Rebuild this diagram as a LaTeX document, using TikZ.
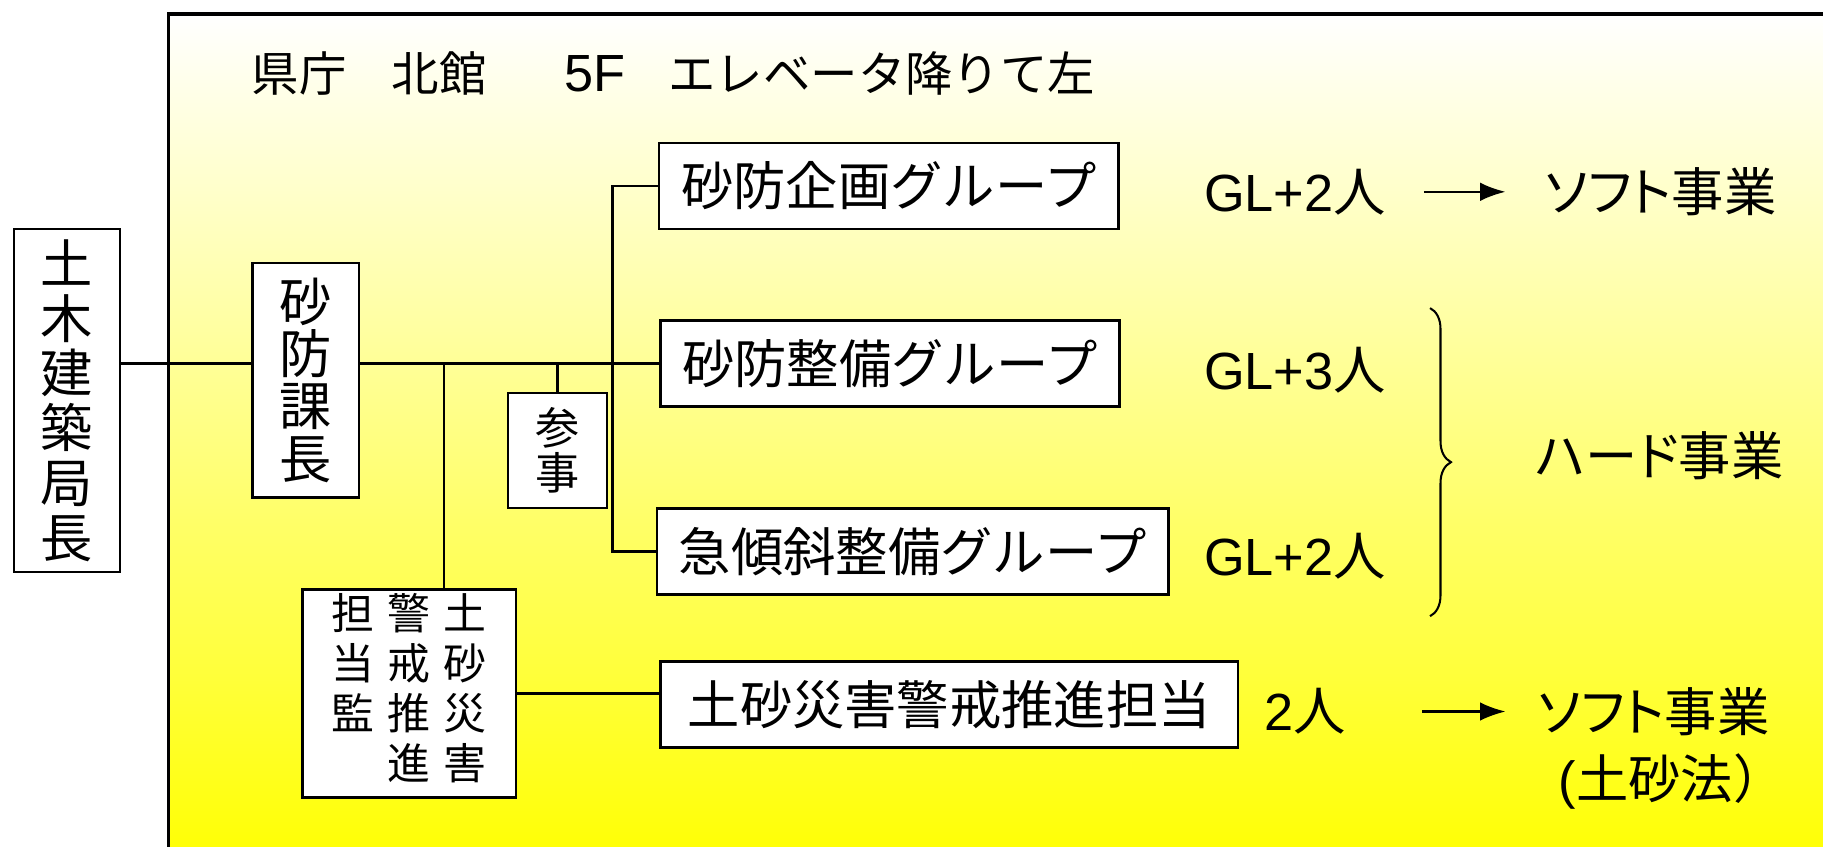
\documentclass[tikz,border=0pt]{standalone}
\usepackage{fontspec}
\setmainfont{Noto Sans CJK JP}
\newfontfamily\latinfont{Liberation Sans}
\newfontfamily\propfont[RawFeature=+palt]{Noto Sans CJK JP}
\usepackage{tikz}
\usetikzlibrary{arrows.meta, decorations.pathreplacing}

\begin{document}
\begin{tikzpicture}[
    box/.style={
        rectangle,
        draw=black,
        line width=0.6pt,
        fill=white,
        inner sep=0pt,
        align=center,
        font=\fontsize{12.8}{12.8}\selectfont
    },
    group/.style={
        box,
        minimum height=0.74cm
    },
    link/.style={line width=0.6pt},
    note/.style={
        inner sep=0pt,
        anchor=west,
        font=\fontsize{12.8}{14}\selectfont
    }
]

\useasboundingbox (0,0) rectangle (15.68,7.28);

% floor background
\shade[top color=white, bottom color=yellow] (1.45,-0.2) rectangle (15.9,7.16);
\draw[line width=0.8pt] (1.45,-0.2) rectangle (15.9,7.16);

\node[note, font=\fontsize{11.6}{14}\selectfont] (title) at (2.16,6.65) {県庁\hspace{0.95em}北館\hspace{1.65em}{\latinfont\fontsize{12.8}{14}\selectfont 5F}\hspace{0.9em}エレベータ降りて左};

\node[box, minimum width=0.91cm, minimum height=2.95cm, font=\fontsize{12.8}{13.4}\selectfont] (kyokucho) at (0.575,3.835) {土\\木\\建\\築\\局\\長};

\node[box, minimum width=0.92cm, minimum height=2.02cm] (kacho) at (2.63,4.01) {砂\\防\\課\\長};

\node[box, minimum width=0.85cm, minimum height=0.99cm, font=\fontsize{10.8}{11.1}\selectfont] (sanji) at (4.795,3.405) {参\\事};

\node[group, minimum width=3.95cm] (kikaku) at (7.645,5.68) {砂防企画グループ};

\node[group, minimum width=3.95cm] (seibi) at (7.655,4.155) {砂防整備グループ};

\node[group, minimum width=4.40cm] (kyukeisha) at (7.85,2.535) {急傾斜整備グループ};

\node[group, minimum width=4.97cm] (suishin) at (8.165,1.22) {土砂災害警戒推進担当};

\node[box, minimum width=1.84cm, minimum height=1.79cm, font=\fontsize{10.5}{11.4}\selectfont] (kan) at (3.52,1.315) {\begin{tabular}{@{}c@{\hspace{3.2pt}}c@{\hspace{3.2pt}}c@{}}担&警&土\\当&戒&砂\\監&推&災\\&進&害\end{tabular}};

% connectors
\coordinate (busx) at (5.27,0);
\coordinate (kanjoin) at ([xshift=3mm]kan.north);
\draw[link] (kyokucho.east |- seibi.west) -- (kacho.west |- seibi.west);
\draw[link] (kacho.east |- seibi.west) -- (seibi.west);
\draw[link] (kanjoin |- seibi.west) -- (kanjoin);
\draw[link] (sanji.north |- seibi.west) -- (sanji.north);
\draw[link] (kikaku.west) -- (kikaku.west -| busx) -- (kyukeisha.west -| busx) -- (kyukeisha.west);
\draw[link] (kan.east) -- (kan.east -| suishin.west);

% staff and work
\node[note] (gl1) at (10.35,5.63) {{\latinfont GL+2}人};
\node[note] (soft1) at (13.28,5.63) {\propfont ソフト事業};
\node[note] (gl2) at (10.35,4.10) {{\latinfont GL+3}人};
\node[note] (gl3) at (10.35,2.50) {{\latinfont GL+2}人};
\node[note] (hard) at (13.20,3.36) {\propfont ハード事業};
\node[note] (two) at (10.87,1.16) {{\latinfont 2}人};
\node[note] (soft2) at (13.22,1.16) {\propfont ソフト事業};
\node[note] (dosha) at (13.40,0.56) {{\latinfont (}土砂法）};

\draw[link, -{Latex[length=2.2mm, width=1.6mm]}, shorten <=0.32cm, shorten >=0.33cm] (gl1.east) -- (soft1.west);
\draw[link, -{Latex[length=2.2mm, width=1.6mm]}, shorten <=0.65cm, shorten >=0.27cm] (two.east) -- (soft2.west);

\coordinate (bracetop) at (12.30,4.63);
\coordinate (bracebot) at (12.30,1.98);
\draw[line width=0.5pt, decorate, decoration={brace, amplitude=0.18cm}] (bracetop) -- (bracebot);

\end{tikzpicture}
\end{document}
